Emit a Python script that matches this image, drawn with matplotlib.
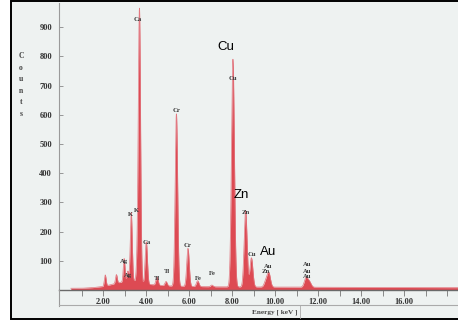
import numpy as np
import matplotlib
matplotlib.use("Agg")
import matplotlib.pyplot as plt
from matplotlib.patches import Rectangle
from matplotlib.lines import Line2D

# EDX spectrum, values
peak_energy = [2.10, 2.62, 2.98, 3.15, 3.31, 3.59, 3.69, 4.01, 4.51, 4.93,
               5.41, 5.95, 6.40, 7.06, 8.04, 8.63, 8.90, 9.57, 9.71, 11.44, 11.60]
peak_counts = [38, 30, 80, 35, 235, 55, 935, 145, 28, 15,
               590, 130, 20, 6, 780, 262, 100, 20, 48, 32, 18]
peak_sigma = [0.040, 0.040, 0.040, 0.040, 0.045, 0.045, 0.052, 0.052, 0.052, 0.052,
              0.058, 0.058, 0.058, 0.058, 0.068, 0.068, 0.068, 0.075, 0.075, 0.080, 0.080]

bg_energy = [0.5, 1.0, 1.5, 2.0, 2.8, 3.4, 4.0, 5.0, 7.0, 10.0, 14.0, 18.6]
bg_counts = [6, 6, 8, 12, 26, 32, 20, 14, 11, 10, 9, 8]

small_labels = ["Ca", "Cu", "Cr", "K", "K", "Ca", "Ag", "Ag", "Ti", "Ti", "Cr",
                "Fe", "Fe", "Zn", "Cu", "Au", "Zn", "Au", "Au", "Au"]
small_x = [3.63, 8.02, 5.42, 3.26, 3.53, 4.02, 2.98, 3.17, 4.51, 4.98, 5.92,
           6.42, 7.07, 8.66, 8.93, 9.66, 9.55, 11.48, 11.48, 11.48]
small_y = [925, 726, 616, 257, 274, 161, 96, 51, 41, 62, 154,
           38, 58, 267, 120, 79, 62, 86, 65, 45]

big_labels = ["Cu", "Zn", "Au"]
big_x = [7.72, 8.42, 9.67]
big_y = [832, 325, 130]

x_major = [2, 4, 6, 8, 10, 12, 14, 16]
x_minor = [1, 3, 5, 7, 9, 11, 13, 15, 17, 18]
y_ticks = [100, 200, 300, 400, 500, 600, 700, 800, 900]

W, H = 458, 324
fig = plt.figure(figsize=(W / 100, H / 100), dpi=100)
fig.patch.set_facecolor("white")

# scanned page with black frame
fig.patches.append(Rectangle((10.5 / W, 5 / H), 460 / W, 318 / H, transform=fig.transFigure,
                             facecolor="#eef2f1", edgecolor="black", lw=1.4, zorder=-5))

ax = fig.add_axes([59 / W, (H - 290) / H, (W - 59) / W, 287 / H])
ax.set_facecolor("none")
ax.set_zorder(2)

e = np.linspace(0.5, 18.6, 4000)
spec = np.interp(e, bg_energy, bg_counts)
for pe, pc, ps in zip(peak_energy, peak_counts, peak_sigma):
    spec = spec + pc * np.exp(-0.5 * ((e - pe) / ps) ** 2)
ax.fill_between(e, 0, spec, color="#dd4a53", lw=0)
ax.plot(e, spec, color="#e27780", lw=0.5)

ax.set_xlim(-0.05, 18.51)
ax.set_ylim(0, 983)

for s in ["top", "right"]:
    ax.spines[s].set_visible(False)
ax.spines["left"].set_color("#9a9a9a")
ax.spines["left"].set_linewidth(0.8)
ax.spines["bottom"].set_color("#6a6a6a")
ax.spines["bottom"].set_linewidth(1.0)

tfont = dict(family="Liberation Serif", weight="bold", size=6)
ax.set_xticks(x_major)
ax.set_xticklabels(["%.2f" % v for v in x_major], fontdict=tfont, color="#333333")
ax.set_xticks(x_minor, minor=True)
ax.tick_params(axis="x", which="both", direction="out", length=4, width=0.6,
               color="#777777", pad=2)
ax.set_yticks(y_ticks)
ax.set_yticklabels([str(v) for v in y_ticks], fontdict=tfont, color="#333333")
ax.tick_params(axis="y", direction="in", length=3, width=0.6, color="#888888", pad=5)

for t, x, y in zip(small_labels, small_x, small_y):
    ax.text(x, y, t, ha="center", va="center", family="Liberation Serif",
            weight="bold", size=4.8, color="#3a3a3a")
for t, x, y in zip(big_labels, big_x, big_y):
    ax.text(x, y, t, ha="center", va="center", family="Liberation Sans",
            size=9.5, color="black")

# lower box with axis title
fig.lines.append(Line2D([59 / W, 59 / W], [(H - 290) / H, (H - 306) / H],
                        transform=fig.transFigure, color="#9a9a9a", lw=0.8))
fig.lines.append(Line2D([59 / W, 1.0], [(H - 305) / H, (H - 305) / H],
                        transform=fig.transFigure, color="#aaaaaa", lw=0.8))
fig.lines.append(Line2D([300 / W, 300 / W], [(H - 305) / H, (H - 318) / H],
                        transform=fig.transFigure, color="#aaaaaa", lw=0.6))
fig.text(275 / W, (H - 312) / H, "Energy [ keV ]", ha="center", va="center",
         family="Liberation Serif", weight="bold", size=5.2, color="#444444")

fig.text(21 / W, (H - 85) / H, "C\no\nu\nn\nt\ns", ha="center", va="center",
         family="Liberation Serif", weight="bold", size=5.5, color="#444444",
         linespacing=1.6)

fig.savefig("out.png", dpi=100)
